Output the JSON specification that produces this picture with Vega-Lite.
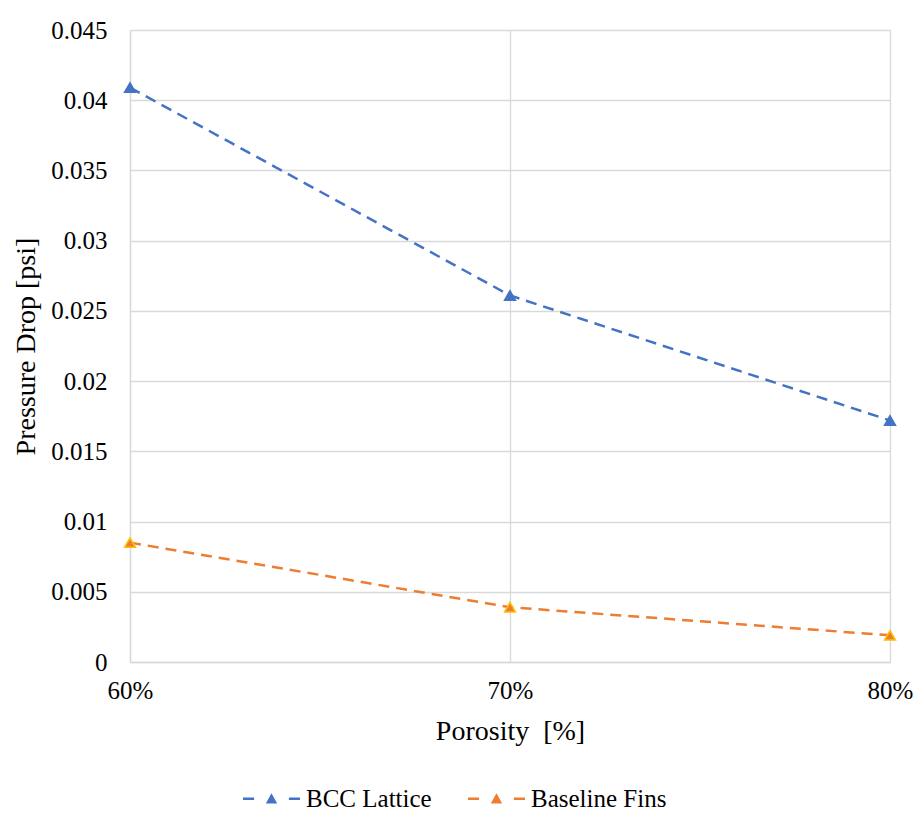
{
  "$schema": "https://vega.github.io/schema/vega-lite/v6.json",
  "width": 760,
  "height": 632,
  "autosize": {"type": "none"},
  "padding": {"left": 130, "top": 30, "right": 30, "bottom": 153},
  "background": "white",
  "config": {
    "view": {"stroke": null},
    "font": "Liberation Serif, Times New Roman, DejaVu Serif, serif"
  },
  "data": {
    "values": [
      {"porosity": 60, "drop": 0.0409, "series": "BCC Lattice"},
      {"porosity": 70, "drop": 0.0261, "series": "BCC Lattice"},
      {"porosity": 80, "drop": 0.0172, "series": "BCC Lattice"},
      {"porosity": 60, "drop": 0.0085, "series": "Baseline Fins"},
      {"porosity": 70, "drop": 0.0039, "series": "Baseline Fins"},
      {"porosity": 80, "drop": 0.0019, "series": "Baseline Fins"}
    ]
  },
  "encoding": {
    "x": {
      "field": "porosity",
      "type": "quantitative",
      "scale": {"domain": [60, 80], "nice": false, "zero": false},
      "axis": {
        "values": [60, 70, 80],
        "labelExpr": "datum.value + '%'",
        "labelFont": "Liberation Serif, Times New Roman, DejaVu Serif, serif",
        "labelFontSize": 25,
        "labelColor": "#000000",
        "labelPadding": 16,
        "labelFlush": false,
        "title": "Porosity\u00a0 [%]",
        "titleFont": "Liberation Serif, Times New Roman, DejaVu Serif, serif",
        "titleFontSize": 28,
        "titleFontWeight": "normal",
        "titleColor": "#000000",
        "titlePadding": 14,
        "gridColor": "#d9d9d9",
        "gridWidth": 1.3,
        "domainColor": "#d9d9d9",
        "domainWidth": 1.3,
        "ticks": false
      }
    },
    "y": {
      "field": "drop",
      "type": "quantitative",
      "scale": {"domain": [0, 0.045], "nice": false},
      "axis": {
        "values": [0, 0.005, 0.01, 0.015, 0.02, 0.025, 0.03, 0.035, 0.04, 0.045],
        "labelExpr": "format(datum.value, '~g')",
        "labelFont": "Liberation Serif, Times New Roman, DejaVu Serif, serif",
        "labelFontSize": 25,
        "labelColor": "#000000",
        "labelPadding": 23,
        "title": "Pressure Drop [psi]",
        "titleFont": "Liberation Serif, Times New Roman, DejaVu Serif, serif",
        "titleFontSize": 28,
        "titleFontWeight": "normal",
        "titleColor": "#000000",
        "titlePadding": 10,
        "gridColor": "#d9d9d9",
        "gridWidth": 1.3,
        "domainColor": "#d9d9d9",
        "domainWidth": 1.3,
        "ticks": false
      }
    }
  },
  "layer": [
    {
      "mark": {"type": "line", "strokeWidth": 2.5, "strokeDash": [11, 7]},
      "encoding": {
        "color": {
          "field": "series",
          "type": "nominal",
          "scale": {"domain": ["BCC Lattice", "Baseline Fins"], "range": ["#4472C4", "#ED7D31"]},
          "legend": {
            "title": null,
            "orient": "none",
            "direction": "horizontal",
            "legendX": 113,
            "legendY": 740,
            "labelFont": "Liberation Serif, Times New Roman, DejaVu Serif, serif",
            "labelFontSize": 25,
            "labelColor": "#000000",
            "symbolType": "M-1,-0.045h0.39v0.09h-0.39Z M0.61,-0.045h0.39v0.09h-0.39Z M-0.2,0.17L0,-0.19L0.2,0.17Z",
            "symbolSize": 3249,
            "symbolStrokeWidth": 0,
            "symbolOpacity": 1,
            "labelOffset": 6,
            "columnPadding": 36
          }
        }
      }
    },
    {
      "mark": {"type": "point", "shape": "triangle-up", "filled": true, "size": 120, "opacity": 1, "strokeWidth": 1.5},
      "encoding": {
        "color": {"field": "series", "type": "nominal"},
        "stroke": {
          "field": "series",
          "type": "nominal",
          "scale": {"domain": ["BCC Lattice", "Baseline Fins"], "range": ["#4472C4", "#FFC000"]},
          "legend": null
        }
      }
    }
  ]
}
